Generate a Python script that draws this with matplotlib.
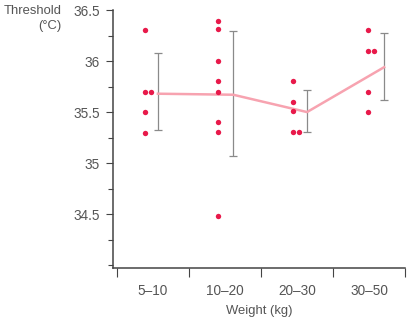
import numpy as np
import matplotlib
matplotlib.use("Agg")
import matplotlib.pyplot as plt

# weight groups and individual thresholds (deg C)
groups = ['5–10', '10–20', '20–30', '30–50']
pts_5_10 = [36.30, 35.70, 35.70, 35.50, 35.29]
pts_10_20 = [36.39, 36.31, 36.00, 35.80, 35.70, 35.40, 35.30, 34.48]
pts_20_30 = [35.80, 35.60, 35.51, 35.30, 35.30]
pts_30_50 = [36.30, 36.10, 36.10, 35.70, 35.50]
# index within group of the dot that sits beside its twin
twin_5_10 = [2]
twin_10_20 = []
twin_20_30 = [4]
twin_30_50 = [2]

means = [35.68, 35.67, 35.50, 35.94]
err_lo = [35.32, 35.07, 35.30, 35.62]
err_hi = [36.08, 36.29, 35.72, 36.28]

ytick_vals = [34.5, 35.0, 35.5, 36.0, 36.5]
ytick_labels = ['34.5', '35', '35.5', '36', '36.5']

# layout
dot_off = [0.39, 0.40, 0.44, 0.48]
bar_off = [0.57, 0.615, 0.64, 0.71]
twin_dx = 0.09
dot_col = '#e8194a'
line_col = '#f7a3b0'
bar_col = '#8a8a8a'
txt_col = '#555555'
axis_col = '#444444'
fs = 9.8
fs_lab = 9.4

plt.rcParams['font.family'] = ['Liberation Sans', 'DejaVu Sans']

fig = plt.figure(figsize=(4.12, 3.25), dpi=100)
ax = fig.add_axes([0.274, 0.175, 0.709, 0.794])

all_pts = [pts_5_10, pts_10_20, pts_20_30, pts_30_50]
twins = [twin_5_10, twin_10_20, twin_20_30, twin_30_50]
for i, (p, tw) in enumerate(zip(all_pts, twins)):
    xs = [i + dot_off[i] + (twin_dx if k in tw else 0) for k in range(len(p))]
    ax.scatter(xs, p, s=15, color=dot_col, linewidths=0, zorder=3)

bx = [i + bar_off[i] for i in range(len(groups))]
ax.plot(bx, means, color=line_col, lw=1.8, zorder=2)
yerr = [np.array(means) - np.array(err_lo), np.array(err_hi) - np.array(means)]
ax.errorbar(bx, means, yerr=yerr, fmt='none', ecolor=bar_col, elinewidth=0.9,
            capsize=2.6, capthick=0.9, zorder=1)

ax.set_xlim(-0.055, 4.0)
ax.set_ylim(33.97, 36.5)

for s in ['top', 'right']:
    ax.spines[s].set_visible(False)
for s in ['left', 'bottom']:
    ax.spines[s].set_color(axis_col)
    ax.spines[s].set_linewidth(1.1)

ax.set_yticks(ytick_vals)
ax.set_yticklabels(ytick_labels)
ax.set_yticks([34.0, 34.25, 34.75, 35.25, 35.75, 36.25], minor=True)
ax.tick_params(axis='y', which='major', length=5, width=0.8, color=axis_col,
               labelsize=fs, labelcolor=txt_col, pad=4.3)
ax.tick_params(axis='y', which='minor', length=3.6, width=0.8, color=axis_col)

ax.set_xticks(range(len(groups) + 1))
ax.set_xticklabels([''] * (len(groups) + 1))
ax.set_xticks([i + 0.5 for i in range(len(groups))], minor=True)
ax.set_xticklabels(groups, minor=True)
ax.tick_params(axis='x', which='major', length=6.5, width=0.8, color=axis_col)
ax.tick_params(axis='x', which='minor', length=0, labelsize=fs,
               labelcolor=txt_col, pad=11.5)

ax.set_xlabel('Weight (kg)', fontsize=fs_lab, color=txt_col, labelpad=5)
fig.text(62 / 412, 1 - 10.5 / 325, 'Threshold', ha='right', va='center',
         fontsize=fs_lab, color=txt_col)
fig.text(62 / 412, 1 - 26.5 / 325, '(°C)', ha='right', va='center',
         fontsize=fs_lab, color=txt_col)

fig.savefig('out.png', dpi=100)
